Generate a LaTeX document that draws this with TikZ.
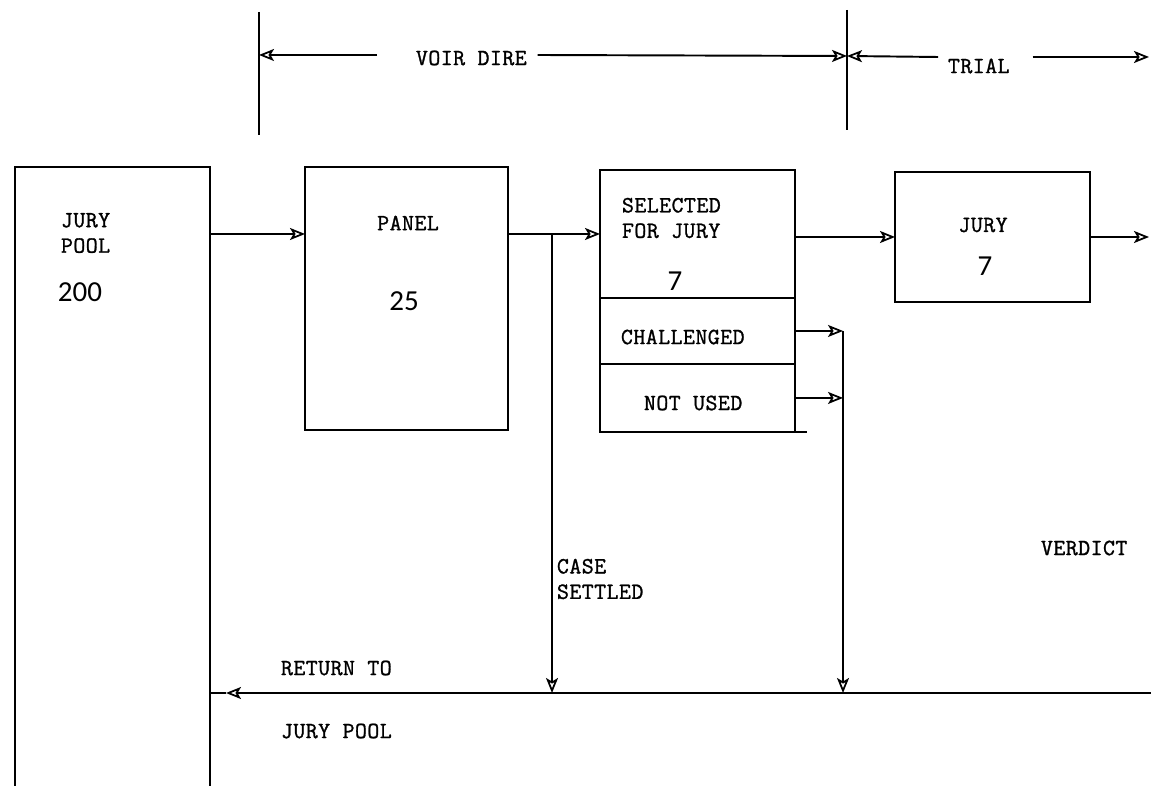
\documentclass[tikz,border=0pt]{standalone}
\usepackage{fontspec}
\setmonofont[LetterSpace=2,FakeBold=1.2]{Latin Modern Mono}
\newfontfamily\numfont{Carlito}
\usetikzlibrary{positioning,arrows.meta}

\begin{document}
\begin{tikzpicture}[
  x=0.02cm, y=-0.02cm,
  line width=1.1pt,
  font=\fontsize{13.2}{14.5}\selectfont\ttfamily,
  box/.style={draw,inner sep=0pt,outer sep=0pt,anchor=north west},
  lbl/.style={inner sep=0pt,align=left},
  num/.style={inner sep=0pt,font=\fontsize{16.5}{18}\selectfont\numfont},
  arr/.style={-{Stealth[open,length=3mm,width=2.4mm,inset=0.7mm,line width=1pt]}}
]
\useasboundingbox (0,0) rectangle (1151,786);
\clip (0,0) rectangle (1151,786);

% boxes
\node[box,minimum width=3.9cm,minimum height=12.66cm] (pool) at (15,167) {};
\node[box,minimum width=4.06cm,minimum height=5.26cm] (pnl) at (305,167) {};
\node[box,minimum width=3.9cm,minimum height=2.56cm] (selTop) at (600,170) {};
\node[box,minimum width=3.9cm,minimum height=1.32cm,below=0pt of selTop] (selChal) {};
\node[box,minimum width=3.9cm,minimum height=1.36cm,below=0pt of selChal] (selNot) {};
\node[box,minimum width=3.9cm,minimum height=2.6cm] (jury) at (895,172) {};

% texts
\node[lbl,anchor=west] (poolTxt) at (60,233) {JURY\\POOL};
\node[num,anchor=west] (poolNum) at (57,292) {200};
\node[lbl] (pnlTxt) at (408,223) {PANEL};
\node[num] (pnlNum) at (404,301) {25};
\node[lbl,anchor=west] (selTxt) at (621,218) {SELECTED\\FOR JURY};
\node[num] (selNum) at (675,281) {7};
\node[lbl,anchor=west] (chalTxt) at (620,337) {CHALLENGED};
\node[lbl,anchor=west] (notTxt) at (643,403) {NOT USED};
\node[lbl] (juryTxt) at (983,225) {JURY};
\node[num] (juryNum) at (985,266) {7};
\node[lbl,anchor=west] (settled) at (556,579) {CASE\\SETTLED};
\node[lbl,anchor=west] (verdict) at (1040,548) {VERDICT};
\node[lbl,anchor=west] (retTxt) at (280,668) {RETURN TO};
\node[lbl,anchor=west] (retTxtB) at (280,731) {JURY POOL};
\node[lbl,anchor=west] (voir) at (415,58) {VOIR DIRE};
\node[lbl,anchor=west] (trial) at (947,66) {TRIAL};

% time scale
\coordinate (tickA) at (259,55);
\coordinate (tickB) at (847,56);
\coordinate (trEnd) at (1149,57);
\draw (tickA) ++(0,-43) -- ++(0,123);
\draw (tickB) ++(0,-46) -- ++(0,120);
\draw[arr] (voir.west) ++(-38,-3) -- (tickA);
\draw[arr] (voir.east) ++(10,-3) -- (tickB);
\draw[arr] (trial.west) ++(-9,-9) -- (tickB);
\draw[arr] (trial.east) ++(22,-9) -- (trEnd);

% flow
\coordinate (rowA) at (0,234);
\coordinate (rowB) at (0,237);
\coordinate (retY) at (0,693);
\coordinate (brTop) at (552,234);
\coordinate (colX) at (843,0);
\coordinate (retR) at (1151,693);
\coordinate (retTip) at (226,693);
\coordinate (outEnd) at (1149,237);

\draw[arr] (rowA -| pool.east) -- (rowA -| pnl.west);
\draw[arr] (rowA -| pnl.east) -- (rowA -| selTop.west);
\draw[arr] (rowB -| selTop.east) -- (rowB -| jury.west);
\draw[arr] (rowB -| jury.east) -- (outEnd);
\draw[arr] (brTop) -- (brTop |- retY);
\draw[arr] (selChal.east) -- (selChal.east -| colX);
\draw[arr] (selNot.east) -- (selNot.east -| colX);
\draw[arr] (selChal.east -| colX) -- (colX |- retY);
\draw (selNot.south east) -- ++(12,0);
\draw[arr] (retR) -- (retTip);
\draw (retTip) -- (retTip -| pool.east);
\end{tikzpicture}
\end{document}
